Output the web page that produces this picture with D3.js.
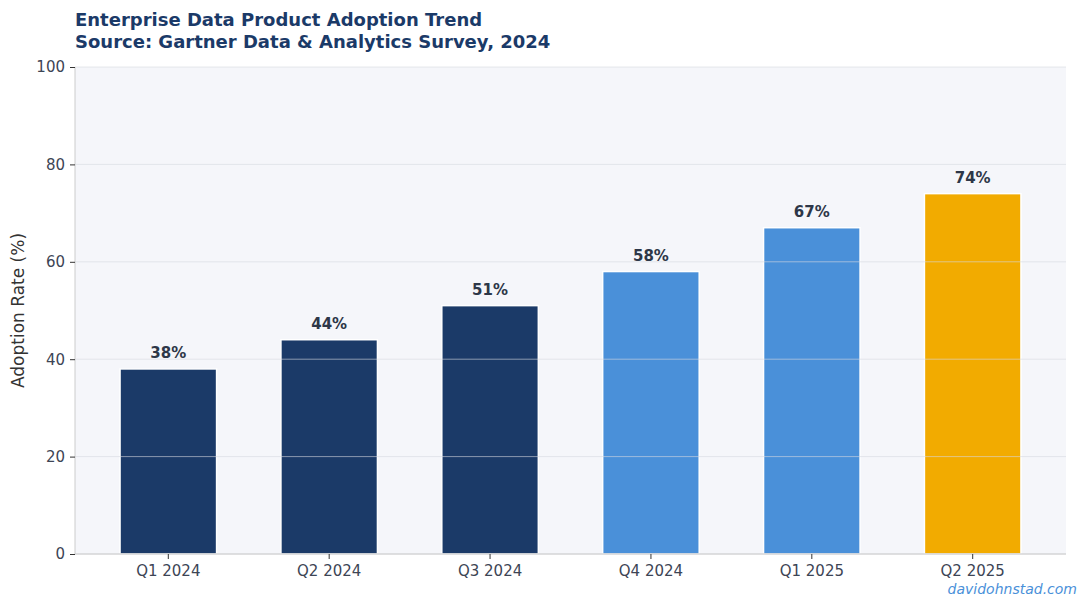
<!DOCTYPE html>
<html>
<head>
<meta charset="utf-8">
<style>
body { margin: 0; background: #ffffff; }
svg text { font-family: "DejaVu Sans", sans-serif; }
</style>
</head>
<body>
<div id="chart"></div>
<script src="https://d3js.org/d3.v7.min.js"></script>
<script>
// data
var quarters = ["Q1 2024", "Q2 2024", "Q3 2024", "Q4 2024", "Q1 2025", "Q2 2025"];
var adoption = [38, 44, 51, 58, 67, 74];
var barColors = ["#1b3a68", "#1b3a68", "#1b3a68", "#4a90d9", "#4a90d9", "#f2ab00"];
var yTicks = [0, 20, 40, 60, 80, 100];

var W = 1088, H = 608;
var margin = {top: 67, right: 22, bottom: 54, left: 75},
    width = W - margin.left - margin.right,
    height = H - margin.top - margin.bottom;

var svg = d3.select("#chart").append("svg")
    .attr("width", W)
    .attr("height", H);

// titles
svg.append("text")
  .attr("x", margin.left).attr("y", 26)
  .style("font-size", "18px").style("font-weight", "bold")
  .attr("fill", "#1b3a68")
  .text("Enterprise Data Product Adoption Trend");
svg.append("text")
  .attr("x", margin.left).attr("y", 48)
  .style("font-size", "18px").style("font-weight", "bold")
  .attr("fill", "#1b3a68")
  .text("Source: Gartner Data & Analytics Survey, 2024");

var g = svg.append("g")
    .attr("transform", "translate(" + margin.left + "," + margin.top + ")");

var x = d3.scaleBand()
    .domain(quarters)
    .range([0, width])
    .paddingInner(0.4)
    .paddingOuter(0.28);

var y = d3.scaleLinear()
    .domain([0, 100])
    .range([height, 0]);

// plot background
g.append("rect")
  .attr("width", width).attr("height", height)
  .attr("fill", "#f5f6fa");

// bars
g.selectAll(".bar")
  .data(adoption)
  .enter().append("rect")
    .attr("class", "bar")
    .attr("x", function(d, i) { return x(quarters[i]); })
    .attr("y", function(d) { return y(d); })
    .attr("width", x.bandwidth())
    .attr("height", function(d) { return height - y(d); })
    .attr("fill", function(d, i) { return barColors[i]; })
    .attr("stroke", "#ffffff")
    .attr("stroke-width", 1.5);

// grid (drawn over the bars, semi transparent)
g.selectAll(".grid")
  .data(yTicks)
  .enter().append("line")
    .attr("x1", 0).attr("x2", width)
    .attr("y1", function(d) { return y(d); })
    .attr("y2", function(d) { return y(d); })
    .attr("stroke", "#d5d9e0")
    .attr("stroke-opacity", 0.6)
    .attr("stroke-width", 1);

// value labels
g.selectAll(".lbl")
  .data(adoption)
  .enter().append("text")
    .attr("x", function(d, i) { return x(quarters[i]) + x.bandwidth() / 2; })
    .attr("y", function(d) { return y(d) - 11; })
    .attr("text-anchor", "middle")
    .style("font-size", "15px").style("font-weight", "bold")
    .attr("fill", "#2d3748")
    .text(function(d) { return d + "%"; });

// axes
var yAxis = g.append("g")
  .call(d3.axisLeft(y).tickValues(yTicks).tickSize(5).tickPadding(5));
var xAxis = g.append("g")
  .attr("transform", "translate(0," + height + ")")
  .call(d3.axisBottom(x).tickSize(5).tickPadding(6));

[yAxis, xAxis].forEach(function(a) {
  a.select(".domain").attr("stroke", "#cccccc");
  a.selectAll(".tick line").attr("stroke", "#333333");
  a.selectAll(".tick text")
    .attr("fill", "#3d4555")
    .style("font-size", "15px")
    .style("font-family", "DejaVu Sans, sans-serif");
});
xAxis.select(".domain").attr("d", "M0,0H" + width);
yAxis.select(".domain").attr("d", "M0," + height + "V0");

// y label
svg.append("text")
  .attr("transform", "translate(24," + (margin.top + height / 2) + ") rotate(-90)")
  .attr("text-anchor", "middle")
  .style("font-size", "17px")
  .attr("fill", "#333333")
  .text("Adoption Rate (%)");

// watermark
svg.append("text")
  .attr("x", 1077).attr("y", 594)
  .attr("text-anchor", "end")
  .style("font-size", "14px").style("font-style", "italic")
  .attr("fill", "#4a90d9")
  .text("davidohnstad.com");
</script>
</body>
</html>
